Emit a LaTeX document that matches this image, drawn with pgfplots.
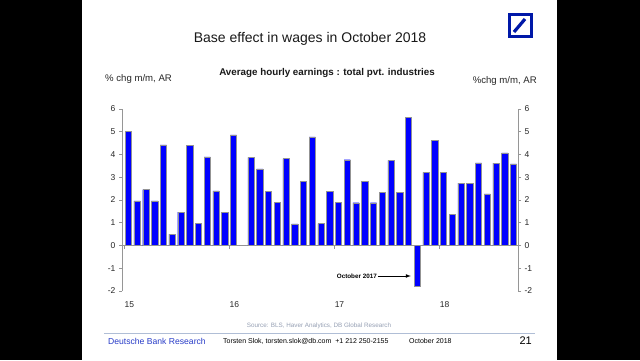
\documentclass[border=0pt]{standalone}
\usepackage{pgfplots}
\pgfplotsset{compat=1.18}
\usepackage{fontspec}
\setmainfont{Liberation Sans}
\definecolor{dbblue}{RGB}{0,24,168}
\definecolor{axgray}{RGB}{150,150,150}
\definecolor{srcgray}{RGB}{150,160,180}
\definecolor{footline}{RGB}{176,190,214}
\definecolor{footblue}{RGB}{40,60,200}
\begin{document}
\begin{tikzpicture}[x=1pt,y=1pt]
\useasboundingbox (0,0) rectangle (640,360);
\fill[black] (0,0) rectangle (640,360);
\fill[white] (82,0) rectangle (557,360);
% logo
\draw[dbblue, line width=3pt] (509.5,323.5) rectangle (531.5,345.5);
\draw[dbblue, line width=3.2pt] (514,328) -- (525,341);
% titles
\node[font=\fontsize{14}{16}\selectfont, text=black!90] at (310,321) {Base effect in wages in October 2018};
\node[font=\fontsize{9.8}{11}\selectfont\bfseries, text=black!90] at (327,287) {Average hourly earnings : total pvt. industries};
\node[anchor=west, inner sep=0pt, font=\fontsize{9.6}{11}\selectfont, text=black!85] at (105,281) {\% chg m/m, AR};
\node[anchor=east, inner sep=0pt, font=\fontsize{9.6}{11}\selectfont, text=black!85] at (537,279) {\%chg m/m, AR};
% footer
\node[text=srcgray, font=\fontsize{6.3}{8}\selectfont] at (319,34) {Source: BLS, Haver Analytics, DB Global Research};
\draw[footline, line width=0.8pt] (104,27) -- (535,27);
\node[anchor=west, inner sep=0pt, text=footblue, font=\fontsize{8.6}{10}\selectfont] at (108,19) {Deutsche Bank Research};
\node[anchor=west, inner sep=0pt, font=\fontsize{7}{8}\selectfont] at (223,19) {Torsten Slok, torsten.slok@db.com\ \ +1 212 250-2155};
\node[anchor=west, inner sep=0pt, font=\fontsize{7}{8}\selectfont] at (409,19) {October 2018};
\node[anchor=east, inner sep=0pt, font=\fontsize{11}{13}\selectfont] at (532,19) {21};
\begin{axis}[
  at={(122pt,69pt)}, anchor=south west,
  scale only axis, width=396pt, height=182pt,
  xmin=-0.25, xmax=45, ymin=-2, ymax=6,
  axis x line=middle, axis y line=box,
  every inner x axis line/.append style={-},
  x axis line style={-, draw=axgray},
  y axis line style={-, draw=axgray},
  hide obscured x ticks=false, hide obscured y ticks=false,
  ytick={-2,-1,0,1,2,3,4,5,6},
  yticklabel pos=left,
  xtick={0,12,24,36}, xticklabels={15,16,17,18},
  tick align=outside, major tick length=3pt,
  tick style={axgray, line width=0.6pt},
  /pgf/number format/assume math mode=true,
  tick label style={font=\fontsize{8.5}{10}\selectfont, text=black!85},
  x tick label style={anchor=north west, xshift=-3pt, yshift=-50pt},
  clip=false,
]
\addplot[ybar, bar width=0.72, fill=blue, draw=gray!85, line width=0.4pt] table {
x y
0.48 5.01
1.48 1.96
2.48 2.46
3.48 1.96
4.48 4.42
5.48 0.50
6.48 1.47
7.48 4.41
8.48 0.97
9.48 3.90
10.48 2.40
11.48 1.45
12.48 4.86
13.48 0.00
14.48 3.87
15.48 3.37
16.48 2.37
17.48 1.90
18.48 3.82
19.48 0.95
20.48 2.83
21.48 4.77
22.48 0.96
23.48 2.37
24.48 1.90
25.48 3.77
26.48 1.88
27.48 2.81
28.48 1.88
29.48 2.33
30.48 3.74
31.48 2.33
32.48 5.63
33.48 -1.80
34.48 3.22
35.48 4.63
36.48 3.21
37.48 1.38
38.48 2.74
39.48 2.74
40.48 3.63
41.48 2.27
42.48 3.62
43.48 4.07
44.48 3.59
};
\draw[-latex, line width=0.7pt] (axis cs:29.0,-1.34) -- (axis cs:32.75,-1.34);
\node[anchor=east, inner sep=1pt, font=\fontsize{6.3}{8}\selectfont\bfseries] at (axis cs:29.0,-1.34) {October 2017};
\end{axis}
\begin{axis}[
  at={(122pt,69pt)}, anchor=south west,
  scale only axis, width=396pt, height=182pt,
  xmin=-0.25, xmax=45, ymin=-2, ymax=6,
  axis x line=none, axis y line*=right,
  y axis line style={-, draw=axgray},
  hide obscured y ticks=false,
  ytick={-2,-1,0,1,2,3,4,5,6},
  tick align=outside, major tick length=3pt,
  tick style={axgray, line width=0.6pt},
  /pgf/number format/assume math mode=true,
  tick label style={font=\fontsize{8.5}{10}\selectfont, text=black!85},
]
\addplot[draw=none] coordinates {(0,0)};
\end{axis}
\end{tikzpicture}
\end{document}
